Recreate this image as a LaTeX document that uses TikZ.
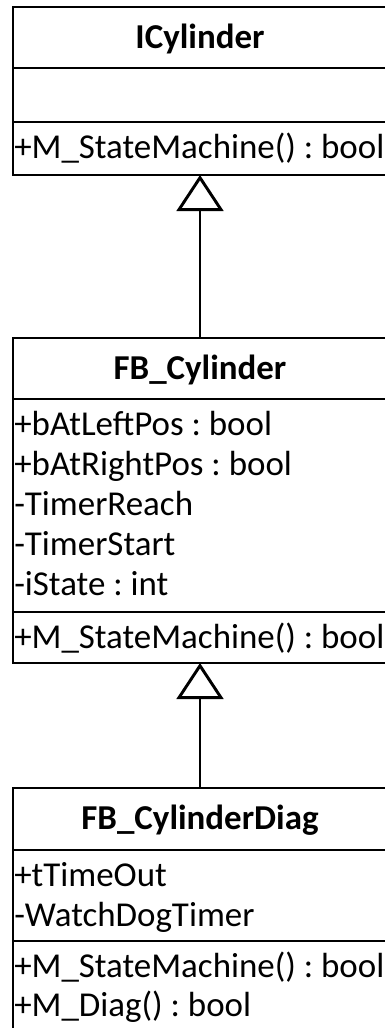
\documentclass[tikz,border=0pt]{standalone}
\usepackage{fontspec}
\setmainfont{Carlito}
\usetikzlibrary{arrows.meta}
\begin{document}
\frenchspacing
\begin{tikzpicture}[x=0.75pt,y=-0.75pt,
  classbox/.style={draw, line width=2.1pt, rectangle, inner sep=0pt, outer sep=0pt, anchor=north west, minimum width=280.5pt},
  sepline/.style={line width=2.1pt},
  classtitle/.style={font=\bfseries\fontsize{26.2pt}{30pt}\selectfont, anchor=base, inner sep=0pt},
  member/.style={font=\fontsize{26.2pt}{30pt}\selectfont, anchor=base west, inner sep=0pt},
  inherit/.style={line width=1.5pt, -{Triangle[open, length=27pt, width=35pt, line width=2.2pt]}}]
\useasboundingbox (0,0) rectangle (385,1028);
\clip (0,0) rectangle (385,1028);
% ICylinder
\node[classbox, minimum height=126pt] (icyl) at (13,7) {};
\draw[sepline] (13,68) -- (387,68);
\draw[sepline] (13,122) -- (387,122);
\node[classtitle] (t1) at (200,48) {ICylinder};
\node[member] (m11) at (14,158) {+M\_StateMachine() : bool};
% FB_Cylinder
\node[classbox, minimum height=243.75pt] (fbc) at (13,338) {};
\draw[sepline] (13,399) -- (387,399);
\draw[sepline] (13,612) -- (387,612);
\node[classtitle] (t2) at (200,379) {FB\_Cylinder};
\node[member] (a21) at (14,435) {+bAtLeftPos : bool};
\node[member] (a22) at (14,475) {+bAtRightPos : bool};
\node[member] (a23) at (14,515) {-TimerReach};
\node[member] (a24) at (14,555) {-TimerStart};
\node[member] (a25) at (14,595) {-iState : int};
\node[member] (m21) at (14,648) {+M\_StateMachine() : bool};
% FB_CylinderDiag
\node[classbox, minimum height=189pt] (fbd) at (13,788) {};
\draw[sepline] (13,850) -- (387,850);
\draw[sepline] (13,941) -- (387,941);
\node[classtitle] (t3) at (200,829) {FB\_CylinderDiag};
\node[member] (a31) at (14,886) {+tTimeOut};
\node[member] (a32) at (14,926) {-WatchDogTimer};
\node[member] (m31) at (14,977) {+M\_StateMachine() : bool};
\node[member] (m32) at (14,1016) {+M\_Diag() : bool};
% inheritance
\draw[inherit] (fbc.north) -- (icyl.south);
\draw[inherit] (fbd.north) -- (fbc.south);
\end{tikzpicture}
\end{document}
